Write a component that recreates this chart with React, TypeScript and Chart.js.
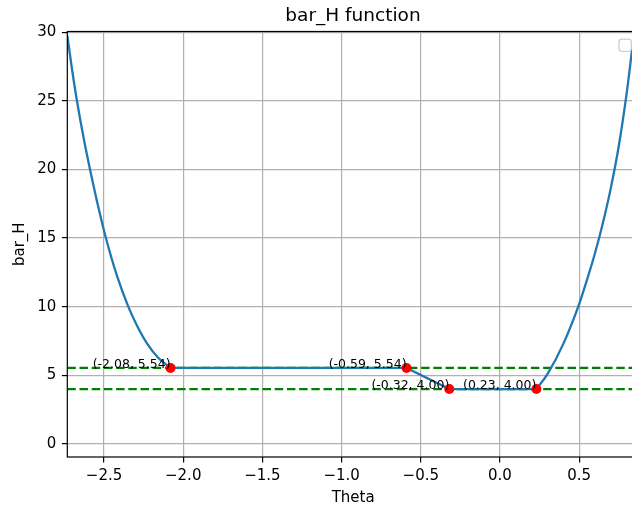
import React, { useEffect, useRef } from "react";
import { Chart, registerables } from "chart.js";

Chart.register(...registerables);

// Axis limits
const xMin = -2.732;
const xMax = 0.878;
const yMin = -0.95;
const yMax = 30.05;

// Tick positions
const xTickValues = [-2.5, -2.0, -1.5, -1.0, -0.5, 0.0, 0.5];
const yTickValues = [0, 5, 10, 15, 20, 25, 30];

// Steep branch left of the first plateau
const leftTheta = [-2.732, -2.702, -2.672, -2.627, -2.581, -2.535, -2.489, -2.418, -2.347, -2.289, -2.23, -2.155, -2.08];
const leftBarH = [29.77, 27.28, 25.06, 22.18, 19.6, 17.21, 15.04, 12.24, 10.01, 8.56, 7.35, 6.24, 5.54];

// Marked points (plateau ends)
const markTheta = [-2.08, -0.59, -0.32, 0.23];
const markBarH = [5.54, 5.54, 4.0, 4.0];

// Steep branch right of the lower plateau
const rightTheta = [0.23, 0.3, 0.4, 0.5, 0.55, 0.6, 0.65, 0.7, 0.75, 0.8, 0.84];
const rightBarH = [4.0, 5.09, 7.29, 10.19, 11.97, 13.89, 16.1, 18.64, 21.69, 25.54, 29.26];

// Horizontal reference levels
const levels = [5.54, 4.0];

const FONT = '"DejaVu Sans", sans-serif';
const BLUE = "#1f77b4";
const GREEN = "#008000";

const pts = (xs: number[], ys: number[]) => xs.map((x, i) => ({ x, y: ys[i] }));

const fmtX = (v: number) => {
  const r = Math.round(v * 10) / 10;
  return (r < 0 ? "\u2212" : "") + Math.abs(r).toFixed(1);
};

const overlay = {
  id: "overlay",
  afterDatasetsDraw(chart: any) {
    const { ctx, chartArea: a, scales } = chart;
    const xs = scales.x;
    const ys = scales.y;
    ctx.save();
    // frame
    ctx.strokeStyle = "#000";
    ctx.lineWidth = 1.2;
    ctx.strokeRect(a.left, a.top, a.right - a.left, a.bottom - a.top);
    // point labels
    ctx.font = `12.5px ${FONT}`;
    ctx.fillStyle = "#000";
    ctx.textAlign = "right";
    ctx.textBaseline = "alphabetic";
    markTheta.forEach((t, i) => {
      ctx.fillText(
        `(${t.toFixed(2)}, ${markBarH[i].toFixed(2)})`,
        xs.getPixelForValue(t),
        ys.getPixelForValue(markBarH[i])
      );
    });
    // empty legend frame
    const pad = 7.7;
    const size = 12.3;
    const lx = a.right - pad - size;
    const ly = a.top + pad;
    ctx.beginPath();
    ctx.roundRect(lx, ly, size, size, 3);
    ctx.fillStyle = "rgba(255,255,255,0.8)";
    ctx.fill();
    ctx.strokeStyle = "#cccccc";
    ctx.lineWidth = 1.2;
    ctx.stroke();
    ctx.restore();
  },
};

export default function App() {
  const ref = useRef<HTMLCanvasElement>(null);

  useEffect(() => {
    if (!ref.current) return;
    const tickFont = { family: FONT, size: 15 };
    const grid = {
      color: "#b0b0b0",
      lineWidth: 1.2,
      tickLength: 5.4,
      tickColor: "#000",
      tickWidth: 1.2,
    };
    const chart = new Chart(ref.current, {
      type: "line",
      data: {
        datasets: [
          {
            label: "marks",
            type: "scatter",
            data: pts(markTheta, markBarH),
            pointRadius: 5,
            pointBackgroundColor: "red",
            pointBorderWidth: 0,
            showLine: false,
            order: 0,
          } as any,
          {
            label: "left",
            data: pts(leftTheta, leftBarH),
            borderColor: BLUE,
            borderWidth: 2.3,
            pointRadius: 0,
            cubicInterpolationMode: "monotone",
            order: 1,
          },
          {
            label: "middle",
            data: pts(markTheta, markBarH),
            borderColor: BLUE,
            borderWidth: 2.3,
            pointRadius: 0,
            tension: 0,
            order: 1,
          },
          {
            label: "right",
            data: pts(rightTheta, rightBarH),
            borderColor: BLUE,
            borderWidth: 2.3,
            pointRadius: 0,
            cubicInterpolationMode: "monotone",
            order: 1,
          },
          ...levels.map((lv) => ({
            label: `level ${lv}`,
            data: [
              { x: xMin, y: lv },
              { x: xMax, y: lv },
            ],
            borderColor: GREEN,
            borderWidth: 2.3,
            borderDash: [8.5, 3.7],
            pointRadius: 0,
            order: 2,
          })),
        ],
      },
      options: {
        responsive: false,
        devicePixelRatio: 1,
        animation: false,
        layout: { padding: 0 },
        plugins: {
          legend: { display: false },
          tooltip: { enabled: false },
          title: {
            display: true,
            text: "bar_H function",
            color: "#000",
            font: { family: FONT, size: 18.5, weight: "normal" },
            padding: { top: 5.2, bottom: 4.1 },
          },
        },
        scales: {
          x: {
            type: "linear",
            position: "bottom",
            min: xMin,
            max: xMax,
            bounds: "data",
            afterBuildTicks: (s: any) => {
              s.ticks = xTickValues.map((v) => ({ value: v }));
            },
            afterFit: (s: any) => {
              s.height = 53;
            },
            ticks: {
              color: "#000",
              font: tickFont,
              padding: 5,
              maxRotation: 0,
              autoSkip: false,
              callback: (v: any) => fmtX(Number(v)),
            },
            grid,
            border: { display: false },
            title: {
              display: true,
              text: "Theta",
              color: "#000",
              font: { family: FONT, size: 15 },
              padding: { top: 0, bottom: 2.8 },
            },
          },
          y: {
            type: "linear",
            position: "left",
            min: yMin,
            max: yMax,
            bounds: "data",
            afterBuildTicks: (s: any) => {
              s.ticks = yTickValues.map((v) => ({ value: v }));
            },
            afterFit: (s: any) => {
              s.width = 67.3;
            },
            ticks: {
              color: "#000",
              font: tickFont,
              padding: 5.5,
              autoSkip: false,
              callback: (v: any) => String(Math.round(Number(v))),
            },
            grid,
            border: { display: false },
            title: {
              display: true,
              text: "bar_H",
              color: "#000",
              font: { family: FONT, size: 15 },
              padding: { top: 11.3, bottom: 0 },
            },
          },
          yRight: {
            type: "linear",
            position: "right",
            axis: "y",
            display: true,
            grid: { display: false },
            ticks: { display: false },
            border: { display: false },
            afterFit: (s: any) => {
              s.width = 67;
            },
          },
        },
      } as any,
      plugins: [overlay],
    });
    return () => chart.destroy();
  }, []);

  return (
    <div
      style={{
        position: "absolute",
        left: 0,
        top: 0,
        width: 632,
        height: 510,
        overflow: "hidden",
        background: "#fff",
      }}
    >
      <canvas
        ref={ref}
        width={706}
        height={510}
        style={{ display: "block", width: 706, height: 510 }}
      />
    </div>
  );
}
